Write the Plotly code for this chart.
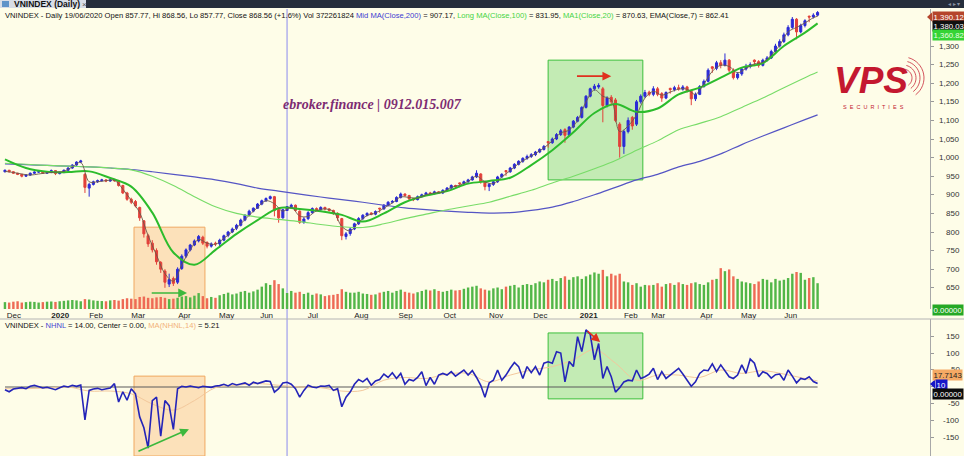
import math
import plotly.graph_objects as go

W, H = 964, 456
BG = "#fefde8"
FONT = "Liberation Sans, Arial, sans-serif"
UP, DOWN = "#2b2bd6", "#e2403a"
VOL_UP, VOL_DOWN = "#52b648", "#ee6a55"

# ---------------- data ----------------
# trading-session index of each candle (one candle drawn per two sessions)
t_idx = list(range(0, 387, 2))

opens = [
    962, 966, 962, 958, 955, 950, 953, 958, 961, 962, 958,            # Dec 19
    961, 965, 957, 960, 966, 972, 980, 988, 955,                      # Jan 20
    918, 928, 935, 938, 940, 937, 940, 938, 925, 905,                 # Feb
    888, 882, 866, 830, 790, 770, 750, 718, 695, 660, 675,            # Mar
    665, 702, 735, 752, 765, 776, 786, 772, 762, 770,                 # Apr
    768, 778, 791, 800, 810, 818, 832, 846, 856,                      # May
    864, 875, 884, 890, 895, 860, 838, 857.77, 868, 872, 856,         # Jun
    826, 836, 852, 863, 860, 866, 862, 858, 850, 836, 788, 796,       # Jul
    808, 822, 836, 845, 851, 848, 864, 862, 872, 880,                 # Aug
    882, 893, 902, 898, 889, 887, 895, 900, 905, 903, 908,            # Sep
    905, 912, 918, 925, 932, 930, 935, 940, 948, 956, 935,            # Oct
    922, 928, 935, 948, 965, 962, 972, 982, 990, 998,                 # Nov
    1003, 1008, 1015, 1022, 1043, 1040, 1050, 1062, 1075, 1060, 1082, 1098,  # Dec
    1108, 1135, 1165, 1185, 1190, 1185, 1140, 1162, 1155, 1090,       # Jan 21
    1030, 1070, 1108, 1090, 1150, 1165, 1176,                         # Feb
    1170, 1185, 1172, 1160, 1186, 1183, 1188, 1184, 1190, 1178, 1158, 1170,  # Mar
    1191, 1205, 1244, 1240, 1255, 1248, 1262, 1235, 1215, 1225,       # Apr
    1238, 1245, 1262, 1258, 1248, 1262, 1268, 1285, 1300, 1312,       # May
    1330, 1350, 1372, 1338, 1355, 1380, 1378, 1383,                   # Jun
]
highs = [
    968, 967, 963, 959, 956, 955, 960, 963, 964, 963, 963,
    968, 966, 962, 968, 974, 982, 990, 994, 958,
    932, 938, 941, 943, 942, 942, 943, 940, 927, 908,
    892, 886, 868, 832, 795, 778, 756, 722, 700, 688, 680,
    705, 740, 756, 768, 780, 792, 790, 775, 772, 774,
    782, 793, 803, 812, 822, 836, 848, 860, 866,
    878, 887, 893, 898, 897, 862, 862, 868.56, 876, 874, 858,
    840, 856, 866, 866, 869, 868, 864, 860, 853, 838, 800, 812,
    825, 840, 848, 853, 853, 858, 865, 875, 883, 886,
    896, 906, 904, 900, 892, 898, 903, 908, 908, 911, 910,
    915, 921, 928, 927, 933, 938, 943, 951, 966, 958, 938,
    932, 938, 951, 958, 966, 975, 985, 993, 1001, 1008,
    1012, 1018, 1025, 1034, 1044, 1054, 1066, 1077, 1079, 1085, 1101, 1112,
    1138, 1168, 1188, 1198, 1200, 1190, 1165, 1168, 1160, 1095,
    1075, 1108, 1112, 1155, 1170, 1182, 1180,
    1192, 1190, 1176, 1178, 1188, 1193, 1196, 1195, 1193, 1182, 1175, 1195,
    1210, 1240, 1246, 1260, 1262, 1280, 1265, 1240, 1230, 1242,
    1252, 1256, 1264, 1262, 1266, 1273, 1290, 1306, 1318, 1336,
    1356, 1378, 1375, 1360, 1372, 1382, 1388, 1394,
]
lows = [
    960, 960, 956, 953, 947, 948, 951, 956, 959, 956, 956,
    958, 953, 955, 958, 964, 970, 978, 985, 905,
    895, 925, 932, 935, 934, 935, 935, 922, 902, 884,
    875, 866, 830, 785, 760, 745, 712, 690, 650, 652, 655,
    660, 698, 730, 748, 762, 772, 765, 756, 758, 762,
    758, 775, 786, 797, 805, 815, 829, 842, 853,
    862, 872, 881, 887, 842, 825, 836, 857.77, 864, 855, 822,
    822, 832, 849, 856, 857, 858, 855, 846, 830, 778, 780, 790,
    805, 819, 832, 842, 845, 845, 852, 860, 869, 877,
    880, 890, 895, 886, 883, 885, 893, 898, 900, 901, 902,
    902, 909, 915, 919, 920, 927, 932, 938, 945, 930, 912,
    910, 924, 932, 945, 951, 959, 969, 979, 986, 994,
    999, 1004, 1012, 1019, 1027, 1037, 1047, 1058, 1040, 1057, 1079, 1095,
    1105, 1132, 1162, 1180, 1185, 1095, 1135, 1140, 1095, 1000,
    1010, 1065, 1075, 1085, 1145, 1160, 1165,
    1165, 1165, 1150, 1157, 1172, 1178, 1180, 1180, 1175, 1141, 1152, 1168,
    1188, 1202, 1228, 1235, 1240, 1245, 1230, 1210, 1210, 1220,
    1234, 1240, 1246, 1242, 1245, 1258, 1265, 1282, 1296, 1308,
    1326, 1346, 1318, 1334, 1350, 1364, 1374, 1380,
]
closes = [
    966, 962, 958, 955, 950, 953, 958, 961, 962, 958, 961,
    965, 957, 960, 966, 972, 980, 988, 991, 920,
    928, 935, 938, 940, 937, 940, 938, 925, 905, 888,
    880, 870, 838, 795, 768, 752, 720, 700, 665, 672, 662,
    700, 735, 752, 765, 776, 788, 770, 762, 768, 768,
    778, 790, 800, 808, 818, 832, 845, 856, 864,
    875, 884, 890, 895, 858, 838, 860, 868.56, 872, 858, 826,
    835, 852, 863, 860, 866, 862, 858, 850, 838, 790, 795, 808,
    822, 836, 845, 850, 848, 855, 862, 872, 880, 882,
    893, 902, 898, 889, 887, 895, 900, 905, 903, 908, 905,
    912, 918, 925, 922, 930, 935, 940, 948, 958, 935, 922,
    928, 935, 948, 955, 962, 972, 982, 990, 998, 1003,
    1008, 1015, 1022, 1030, 1040, 1050, 1062, 1072, 1060, 1082, 1098, 1108,
    1135, 1165, 1185, 1192, 1194, 1140, 1160, 1150, 1100, 1030,
    1070, 1100, 1085, 1150, 1165, 1175, 1170,
    1185, 1170, 1160, 1175, 1183, 1188, 1185, 1190, 1180, 1158, 1170, 1191,
    1205, 1235, 1240, 1255, 1248, 1262, 1235, 1215, 1225, 1238,
    1245, 1250, 1258, 1248, 1262, 1268, 1285, 1300, 1312, 1330,
    1350, 1372, 1338, 1355, 1368, 1378, 1383, 1390.12,
]
# volume, millions of shares
volume_m = [
    160, 150, 170, 180, 150, 160, 170, 165, 150, 160, 170,
    175, 165, 180, 190, 200, 210, 200, 180, 230,
    220, 200, 190, 185, 180, 200, 210, 195, 230, 250,
    240, 230, 280, 290, 260, 250, 270, 280, 260, 230, 240,
    260, 290, 300, 270, 310, 370, 300, 250, 280, 260,
    320, 350, 380, 340, 360, 400, 420, 380, 410,
    450, 520, 600, 560, 670, 580, 480, 372, 420, 380, 400,
    350, 380, 330, 360, 340, 300, 320, 330, 350, 460, 400, 380,
    380, 400, 360, 350, 330, 340, 380, 400, 420, 380,
    420, 450, 400, 380, 360, 390, 420, 450, 430, 460, 420,
    400, 420, 450, 430, 440, 470, 500, 520, 540, 480, 450,
    430, 480, 500, 460, 520, 540, 560, 500, 560, 580,
    560, 600, 640, 620, 680, 700, 650, 720, 760, 680, 740, 760,
    700, 760, 800, 850, 820, 910, 760, 820, 780, 820,
    640, 620, 560, 600, 520, 560, 550,
    560, 600, 520, 580, 600, 560, 620, 580, 560, 600, 620, 580,
    560, 620, 680, 700, 950, 880, 920, 760, 700, 640,
    620, 600, 580, 640, 700, 680, 620, 700, 660, 680,
    720, 820, 860, 840, 680, 720, 740, 600,
]
nhnl = [
    -8, -14, -6, -3, -2, -5, 2, 5, 0, -3, -1,
    -4, -8, -2, 3, 0, 5, 2, 6, -97,
    -10, -6, -4, -8, -5, -3, 10, -44, -14, -39,
    -5, -20, -88, -120, -180, -40, -30, -145, -40, -55, -125,
    -5, 2, 0, 3, 0, -2, 2, 0, -1, 3,
    4, 8, 3, 10, 6, 9, 12, 5, 14,
    10, 14, 18, 16, -15, -5, 12, 14, 8, -5, -30,
    -10, 5, 0, -2, 3, 2, 5, -10, -5, -58, -30, -15,
    8, 22, 15, 25, 5, 18, 22, 38, 28, 42,
    25, 40, 8, 22, 18, 28, 45, 4, 28, 8, 35,
    40, 35, 45, 32, 40, 50, 35, 48, 28, 5, -30,
    12, 20, 50, 20, 35, 55, 72, 60, 25, 60,
    42, 60, 35, 70, 74, 70, 104, 100, 15, 75, 60, 148,
    104, 168, 155, 80, 128, 25, 60, 30, -15, -2,
    15, 20, 18, 50, 25, 30, 38,
    55, 22, 45, 25, 35, 45, 55, 38, 18, 2, 15, 40,
    50, 48, 68, 45, 65, 48, 30, 25, 35, 65,
    40, 82, 70, 30, 45, 40, 26, 36, 38, 20,
    50, 32, 12, 25, 22, 30, 16, 10,
]

# moving averages every 10 sessions
ma_t = list(range(0, 381, 10)) + [386]
ma200 = [983, 981, 979, 977, 975, 972, 968, 962, 955, 948,
         940, 930, 918, 910, 902, 894, 887, 880, 872, 865,
         860, 856, 853, 851, 852, 858, 867, 882, 900, 920,
         940, 955, 975, 990, 1010, 1035, 1058, 1080, 1102, 1115]
ma100 = [985, 982, 979, 977, 975, 972, 967, 950, 925, 895,
         868, 850, 840, 834, 828, 820, 814, 812, 822, 836,
         848, 860, 870, 880, 896, 912, 932, 950, 970, 992,
         1020, 1045, 1075, 1092, 1110, 1135, 1160, 1188, 1215, 1230]
ma20 = [995, 972, 962, 961, 963, 945, 922, 852, 745, 712,
        752, 795, 832, 864, 862, 856, 846, 828, 850, 880,
        898, 910, 930, 937, 946, 980, 1020, 1068, 1120, 1144,
        1123, 1132, 1170, 1188, 1215, 1242, 1254, 1300, 1336, 1360.82]
nhnl_ma14 = [-5, -5, -3, 0, -12, -12, -20, -50, -68, -40,
             -2, 5, 10, 5, 0, -2, -12, -10, 20, 28,
             25, 38, 40, 15, 35, 50, 60, 80, 110, 70,
             20, 35, 35, 28, 50, 40, 48, 38, 25, 17.7143]

ema_t = list(range(0, 385, 4)) + [386]
ema7 = [963, 960, 956, 953, 956, 959, 961, 963, 975, 987,
        935, 935, 938, 939, 915, 885, 852, 790, 738, 688,
        668, 712, 752, 780, 770, 767, 783, 801, 822, 845,
        866, 884, 876, 856, 867, 843, 842, 857, 862, 855,
        815, 803, 826, 844, 851, 864, 878, 894, 893, 891,
        900, 905, 907, 920, 926, 936, 950, 935, 930, 948,
        965, 984, 998, 1011, 1026, 1045, 1066, 1074, 1100, 1150,
        1182, 1165, 1155, 1070, 1085, 1115, 1160, 1178, 1168, 1176,
        1184, 1184, 1170, 1198, 1232, 1248, 1245, 1228, 1240, 1252,
        1256, 1275, 1302, 1338, 1350, 1362, 1376, 1380.03]

month_t = [0, 22, 39, 59, 81, 101, 120, 142, 165, 186, 207, 229, 250, 273, 293, 306, 329, 349, 369]
month_lbl = ["Dec", "<b>2020</b>", "Feb", "Mar", "Apr", "May", "Jun", "Jul", "Aug", "Sep",
             "Oct", "Nov", "Dec", "<b>2021</b>", "Feb", "Mar", "Apr", "May", "Jun"]
price_ticks = list(range(650, 1301, 50))
nhnl_ticks = [-150, -100, -50, 50, 100, 150]   # the 0 label sits under the value tags
cursor_t = 134

# highlighted zones drawn on the chart (session index / value)
zone_a = dict(t0=61.3, t1=95, p0=593, p1=813, n0=-203, n1=32)
zone_b = dict(t0=258, t1=303, p0=940, p1=1262, n0=-35, n1=159)


def px(x):
    return x / W


def py(y):
    return 1 - y / H


fig = go.Figure()

vol_colors = [VOL_UP if c >= o else VOL_DOWN for o, c in zip(opens, closes)]
fig.add_trace(go.Bar(x=t_idx, y=volume_m, marker=dict(color=vol_colors, line_width=0),
                     width=1.15, yaxis="y2", hoverinfo="skip"))

fig.add_trace(go.Scatter(x=ma_t, y=ma200, mode="lines", line=dict(color="#5555c4", width=1.2, shape="spline")))
fig.add_trace(go.Scatter(x=ma_t, y=ma100, mode="lines", line=dict(color="#78dc68", width=1.1, shape="spline")))
fig.add_trace(go.Scatter(x=ma_t, y=ma20, mode="lines", line=dict(color="#2cbc2c", width=2, shape="spline")))
fig.add_trace(go.Scatter(x=ema_t, y=ema7, mode="lines", line=dict(color="#6e5848", width=0.9, shape="spline")))

fig.add_trace(go.Candlestick(
    x=t_idx, open=opens, high=highs, low=lows, close=closes,
    increasing=dict(line=dict(color=UP, width=1), fillcolor=UP),
    decreasing=dict(line=dict(color=DOWN, width=1), fillcolor=DOWN),
    whiskerwidth=0, hoverinfo="skip",
))

# NHNL pane
fig.add_trace(go.Scatter(x=ma_t, y=nhnl_ma14, mode="lines", xaxis="x2", yaxis="y3",
                         line=dict(color="#f3c89c", width=1, shape="spline")))
fig.add_trace(go.Scatter(x=t_idx, y=nhnl, mode="lines", xaxis="x2", yaxis="y3",
                         line=dict(color="#2424b8", width=1.6)))

shapes = []
# highlight zones
for z, fill, edge in [(zone_a, "rgba(250,190,130,0.45)", "#f0a860"),
                      (zone_b, "rgba(70,200,70,0.32)", "#3cbf3c")]:
    shapes.append(dict(type="rect", xref="x", yref="y", x0=z["t0"], x1=z["t1"], y0=z["p0"], y1=z["p1"],
                       fillcolor=fill, line=dict(color=edge, width=1), layer="below"))
    shapes.append(dict(type="rect", xref="x2", yref="y3", x0=z["t0"], x1=z["t1"], y0=z["n0"], y1=z["n1"],
                       fillcolor=fill, line=dict(color=edge, width=1), layer="below"))
# NHNL centre line
shapes.append(dict(type="line", xref="x2", yref="y3", x0=t_idx[0], x1=t_idx[-1], y0=0, y1=0,
                   line=dict(color="#5a5a5a", width=1.2), layer="below"))
# cursor
shapes.append(dict(type="line", xref="x", yref="paper", x0=cursor_t, x1=cursor_t, y0=0, y1=py(9),
                   line=dict(color="#8a8aee", width=1), layer="below"))
# pane separator
shapes.append(dict(type="line", xref="paper", yref="paper", x0=0, x1=1, y0=py(319), y1=py(319),
                   line=dict(color="#b4b4b4", width=1)))
# tab bar
shapes.append(dict(type="rect", xref="paper", yref="paper", x0=0, x1=1, y0=py(8), y1=1,
                   fillcolor="#262e3c", line_width=0))
shapes.append(dict(type="rect", xref="paper", yref="paper", x0=0, x1=px(86), y0=py(8), y1=1,
                   fillcolor="#d8dde6", line_width=0))
shapes.append(dict(type="rect", xref="paper", yref="paper", x0=px(2), x1=px(9), y0=py(7), y1=py(1),
                   fillcolor="#5f93c8", line_width=0))


def poly(points):
    return "M " + " L ".join(f"{px(x):.5f},{py(y):.5f}" for x, y in points)


# logo arcs
for r in (9, 13, 17, 21):
    pts = [(903 + r * math.cos(math.radians(a)), 78 + r * math.sin(math.radians(a))) for a in range(-75, 56, 8)]
    shapes.append(dict(type="path", xref="paper", yref="paper", path=poly(pts),
                       line=dict(color="#c8283a", width=0.8)))

# tag pointers
shapes.append(dict(type="path", xref="paper", yref="paper",
                   path=poly([(927, 17), (932, 12.5), (932, 21.5)]) + " Z", fillcolor="#b5452c", line_width=0))
shapes.append(dict(type="path", xref="paper", yref="paper",
                   path=poly([(930, 384), (935, 379.5), (935, 388.5)]) + " Z", fillcolor="#1616c8", line_width=0))

ann = []


def text(x, y, s, size=7.6, color="#111", anchor="left", family=FONT, **kw):
    ann.append(dict(x=px(x), y=py(y), xref="paper", yref="paper", text=s, showarrow=False,
                    xanchor=anchor, yanchor="middle", font=dict(size=size, color=color, family=family), **kw))


text(12, 4, "<b>VNINDEX (Daily)</b>", size=8.5, color="#111")
text(80, 4, "×", size=8, color="#555")
text(962, 4, "◂ ▸ ▾", size=6, color="#8a93a3", anchor="right")

hdr = ("VNINDEX - Daily 19/06/2020 Open 857.77, Hi 868.56, Lo 857.77, Close 868.56 (+1.6%) Vol 372261824 "
       "<span style='color:#3b3bd0'>Mid MA(Close,200)</span> = 907.17, "
       "<span style='color:#44d444'>Long MA(Close,100)</span> = 831.95, "
       "<span style='color:#44d444'>MA1(Close,20)</span> = 870.63, EMA(Close,7) = 862.41")
text(3, 15, hdr)
text(3, 325, "VNINDEX - <span style='color:#4646d2'>NHNL</span> = 14.00, Center = 0.00, "
             "<span style='color:#f2b27a'>MA(NHNL,14)</span> = 5.21")

text(372, 104, "<b><i>ebroker.finance | 0912.015.007</i></b>", size=14, color="#7d2b72",
     anchor="center", family="Liberation Serif, Times New Roman, serif")
text(871, 81, "<b><i>VPS</i></b>", size=37, color="#c4182f", anchor="center")
text(873, 107, "S  E  C  U  R  I  T  I  E  S", size=5.5, color="#c4182f", anchor="center")

for v in price_ticks:
    ann.append(dict(x=px(962), xref="paper", y=v, yref="y", text=f"{v:,}", showarrow=False,
                    xanchor="right", yanchor="middle", font=dict(size=8, color="#333", family=FONT)))
for v in nhnl_ticks:
    ann.append(dict(x=px(962), xref="paper", y=v, yref="y3", text=f"{v}", showarrow=False,
                    xanchor="right", yanchor="middle", font=dict(size=8, color="#333", family=FONT)))

# value tags on the right axis
for y, s, bg, fg, x in [
    (17, f"{closes[-1]:,.2f}", "#b5452c", "#ffffff", 932),
    (26, f"{ema7[-1]:,.2f}", "#111111", "#ffffff", 932),
    (34.5, f"{ma20[-1]:,.2f}", "#35d435", "#e9ffe6", 932),
    (310, "0.00000", "#25a825", "#ffffff", 932),
    (375, f"{nhnl_ma14[-1]:.4f}", "#f4a964", "#222222", 932),
    (384.5, f"{nhnl[-1]}", "#1616c8", "#ffffff", 935),
    (393.5, "0.00000", "#0c0c0c", "#ffffff", 932),
]:
    text(x, y, s, size=7.8, color=fg, bgcolor=bg, borderpad=0.6)

# arrows
arrow = dict(showarrow=True, arrowhead=2, arrowsize=1.1, arrowwidth=1.6, text="")
ann.append(dict(x=86.5, y=636, ax=69, ay=636, xref="x", yref="y", axref="x", ayref="y",
                arrowcolor="#3cb83c", **arrow))
ann.append(dict(x=288, y=1219, ax=271, ay=1219, xref="x", yref="y", axref="x", ayref="y",
                arrowcolor="#e0301e", **arrow))
ann.append(dict(x=87.4, y=-124, ax=62.7, ay=-191, xref="x2", yref="y3", axref="x2", ayref="y3",
                arrowcolor="#3cb83c", **arrow))
ann.append(dict(x=282.7, y=132, ax=276, ay=168, xref="x2", yref="y3", axref="x2", ayref="y3",
                arrowcolor="#e0301e", **arrow))

x_dom = [px(2), px(930)]
yax = dict(side="right", showticklabels=False, ticks="outside", ticklen=3, tickcolor="#999",
           showline=True, linecolor="#a8a8a8", linewidth=1, showgrid=False, zeroline=False, fixedrange=True)

fig.update_layout(
    width=W, height=H,
    margin=dict(l=0, r=0, t=0, b=0),
    paper_bgcolor=BG, plot_bgcolor="rgba(0,0,0,0)",
    showlegend=False,
    font=dict(family=FONT, color="#222"),
    xaxis=dict(domain=x_dom, anchor="y", range=[-1.4, 439.4], tickvals=month_t, ticktext=month_lbl,
               ticks="", ticklabelshift=9, tickfont=dict(size=8, color="#222"),
               showgrid=False, zeroline=False, showline=False, rangeslider=dict(visible=False)),
    xaxis2=dict(domain=x_dom, anchor="y3", matches="x", showticklabels=False, ticks="",
                showgrid=False, zeroline=False, showline=False),
    yaxis=dict(domain=[py(309), py(9)], range=[593, 1399.5], tickvals=price_ticks, anchor="x", **yax),
    yaxis2=dict(overlaying="y", range=[0, 6977], visible=False),
    yaxis3=dict(domain=[0, py(319)], range=[-203, 200], tickvals=[-150, -100, -50, 0, 50, 100, 150],
                anchor="x2", **yax),
    shapes=shapes,
    annotations=ann,
)

# the page's default body margin would push the 964x456 figure out of the window
fig.write_html("out.html", config=dict(displayModeBar=False),
               post_script="document.body.style.margin='0';document.body.style.overflow='hidden';")
